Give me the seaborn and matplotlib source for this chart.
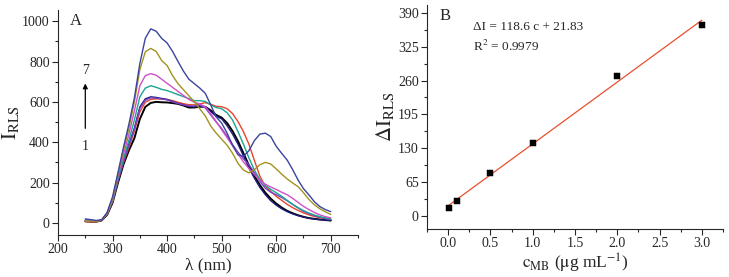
import pandas as pd
import seaborn as sns
import matplotlib.pyplot as plt

sns.set_style("ticks")
plt.rcParams['font.family'] = ['Liberation Serif', 'DejaVu Serif']
plt.rcParams['mathtext.fontset'] = 'stix'

# panel A: RLS spectra, curves 1..7 (+ one extra trace)
wavelength = [250, 260, 270, 280, 290, 300, 310, 320, 330, 340, 350, 360, 370, 380, 390,
              400, 410, 420, 430, 440, 450, 460, 470, 480, 490, 500, 510, 520, 530, 540,
              550, 560, 570, 580, 590, 600, 610, 620, 630, 640, 650, 660, 670, 680, 690, 700]

black = [8, 6, 6, 12, 40, 100, 200, 290, 360, 420, 515, 575, 595, 600, 598, 597, 594, 590, 582, 572,
         572, 576, 575, 558, 535, 522, 495, 455, 405, 345, 285, 232, 188, 150, 120, 96, 76, 60, 48, 38,
         30, 24, 20, 17, 14, 12]
red = [6, 5, 6, 12, 42, 105, 210, 300, 375, 455, 550, 598, 612, 615, 615, 612, 606, 598, 591, 586,
       585, 590, 596, 588, 578, 576, 566, 542, 502, 452, 390, 310, 232, 182, 156, 132, 112, 92, 76, 62,
       50, 40, 32, 26, 21, 17]
navy = [14, 12, 10, 14, 45, 110, 215, 310, 390, 470, 575, 615, 625, 622, 617, 612, 602, 592, 586, 578,
        575, 580, 576, 552, 528, 516, 482, 440, 390, 332, 272, 222, 176, 140, 110, 88, 70, 56, 45, 36,
        29, 23, 19, 16, 14, 12]
violet = [12, 10, 9, 13, 44, 108, 212, 305, 385, 465, 568, 608, 620, 618, 614, 610, 600, 592, 585, 580,
          580, 584, 570, 535, 500, 468, 430, 388, 350, 318, 288, 250, 206, 172, 152, 140, 126, 110, 92, 74,
          58, 46, 36, 28, 22, 18]
teal = [12, 10, 9, 14, 46, 112, 222, 320, 410, 510, 625, 668, 680, 672, 662, 656, 646, 636, 626, 616,
        606, 606, 602, 585, 572, 566, 546, 510, 452, 390, 322, 262, 216, 186, 166, 150, 132, 112, 92, 76,
        61, 49, 39, 31, 25, 20]
magenta = [10, 9, 8, 14, 48, 118, 235, 340, 440, 555, 680, 730, 740, 732, 712, 692, 672, 652, 632, 612,
           598, 590, 575, 542, 502, 462, 422, 382, 342, 302, 270, 240, 212, 192, 178, 166, 152, 140, 122, 102,
           82, 66, 52, 40, 31, 25]
olive = [10, 9, 8, 14, 48, 120, 245, 360, 470, 600, 760, 848, 865, 850, 805, 780, 730, 690, 660, 630,
         600, 565, 530, 480, 445, 415, 385, 345, 295, 262, 248, 264, 288, 300, 292, 268, 242, 218, 198, 180,
         150, 116, 90, 70, 55, 42]
blue = [20, 16, 12, 15, 52, 130, 250, 375, 490, 620, 790, 915, 962, 950, 915, 892, 850, 800, 752, 712,
        690, 668, 642, 585, 525, 495, 445, 385, 338, 330, 358, 408, 440, 445, 428, 380, 345, 312, 265, 213,
        170, 139, 105, 81, 66, 56]

curves = {"black": black, "red": red, "navy": navy, "violet": violet,
          "teal": teal, "magenta": magenta, "olive": olive, "blue": blue}
colors = {"black": "#000000", "red": "#e8442a", "navy": "#1c1c78", "violet": "#7b3fc4",
          "teal": "#1aa595", "magenta": "#d050c8", "olive": "#a19320", "blue": "#3a44a0"}

# panel B: calibration points
conc = [0.01, 0.1, 0.5, 1.0, 2.0, 3.0]
delta_i = [16, 29, 82, 140, 269, 367]

spectra = pd.concat([pd.DataFrame({"wl": wavelength, "I": v, "curve": k}) for k, v in curves.items()])

fig = plt.figure(figsize=(7.29, 2.77), dpi=100)
ax1 = fig.add_axes([0.0796, 0.1516, 0.4115, 0.812])
ax2 = fig.add_axes([0.5857, 0.173, 0.406, 0.809])

sns.lineplot(data=spectra, x="wl", y="I", hue="curve", palette=colors, ax=ax1,
             legend=False, linewidth=1.0, sort=False)
ax1.lines[0].set_linewidth(1.4)
ax1.set_xlim(200, 750)
ax1.set_ylim(-60, 1055)
ax1.set_xticks([200, 300, 400, 500, 600, 700])
ax1.set_xticks([250, 350, 450, 550, 650, 750], minor=True)
ax1.set_yticks([0, 200, 400, 600, 800, 1000])
ax1.set_yticks([100, 300, 500, 700, 900], minor=True)
ax1.set_xlabel("λ (nm)", fontsize=12.5, labelpad=1)
ax1.set_ylabel(r"$\mathrm{I_{RLS}}$", fontsize=15, labelpad=1)
ax1.text(0.04, 0.95, "A", transform=ax1.transAxes, fontsize=12, va="center")
ax1.text(250, 757, "7", fontsize=10, ha="center", va="center")
ax1.text(250, 380, "1", fontsize=10, ha="center", va="center")
ax1.annotate("", xy=(250, 705), xytext=(250, 455),
             arrowprops=dict(arrowstyle="-|>", lw=0.9, color="black", mutation_scale=7))

sns.regplot(x=conc, y=delta_i, ci=None, scatter=False, ax=ax2,
            line_kws=dict(color="#e8502f", lw=0.9))
sns.scatterplot(x=conc, y=delta_i, marker="s", color="black", s=18, edgecolor="black", ax=ax2, zorder=3)
ax2.set_xlim(-0.25, 3.25)
ax2.set_ylim(-25, 405)
ax2.set_xticks([0.0, 0.5, 1.0, 1.5, 2.0, 2.5, 3.0])
ax2.set_xticklabels(["0.0", "0.5", "1.0", "1.5", "2.0", "2.5", "3.0"])
ax2.set_xticks([-0.25, 0.25, 0.75, 1.25, 1.75, 2.25, 2.75, 3.25], minor=True)
ax2.set_yticks([0, 65, 130, 195, 260, 325, 390])
ax2.set_yticks([32.5, 97.5, 162.5, 227.5, 292.5, 357.5], minor=True)
ax2.set_xlabel(r"$\mathrm{c_{MB}}$ ($\mathrm{\mu}$g mL$^{-1}$)", fontsize=12.5, labelpad=1)
ax2.set_ylabel(r"$\Delta\mathrm{I_{RLS}}$", fontsize=15, labelpad=1)
ax2.text(0.044, 0.95, "B", transform=ax2.transAxes, fontsize=12, va="center")
ax2.text(0.29, 363, "ΔI = 118.6 c + 21.83", fontsize=9.5, va="center")
ax2.text(0.29, 325, r"R$^2$ = 0.9979", fontsize=9.5, va="center")

for ax in (ax1, ax2):
    sns.despine(ax=ax)
    ax.tick_params(which="major", direction="out", length=4, width=0.8, labelsize=10, pad=2)
    ax.tick_params(which="minor", direction="out", length=2, width=0.8)
    for s in ax.spines.values():
        s.set_linewidth(0.8)

fig.savefig("out.png", dpi=100)
